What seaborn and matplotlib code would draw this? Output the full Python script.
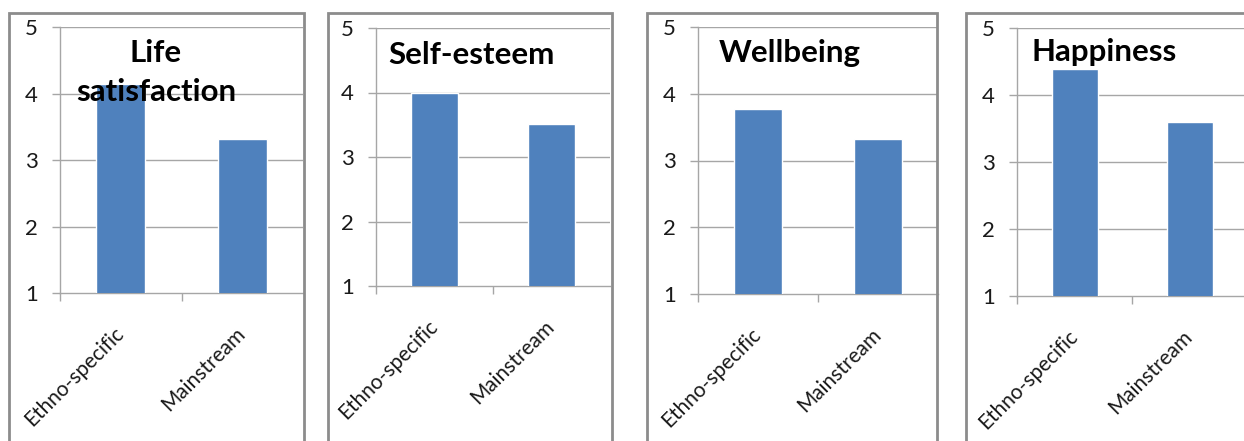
import matplotlib
matplotlib.use("Agg")
import matplotlib.pyplot as plt
from matplotlib.patches import Rectangle
from matplotlib.ticker import FixedLocator
import seaborn as sns
import pandas as pd

# Mean scores by service type
groups = ["Ethno-specific", "Mainstream"]
life_satisfaction = [4.14, 3.32]
self_esteem = [3.99, 3.51]
wellbeing = [3.77, 3.32]
happiness = [4.39, 3.60]
titles = [["Life", "satisfaction"], ["Self-esteem"], ["Wellbeing"], ["Happiness"]]
y_ticks = [1, 2, 3, 4, 5]

sns.set_theme(style="white")
plt.rcParams["font.family"] = ["Lato", "DejaVu Sans"]

W, H = 1244, 441
fig = plt.figure(figsize=(W / 100, H / 100), dpi=100)

BAR = "#4F81BD"
GRID = "#A6A6A6"
FRAME = "#8C8C8C"

# panel layout in pixels: (axes left, axes right, y=5 row, y=1 row, frame left, frame right)
layout = [
    (60, 303, 27, 293, 9, 304),
    (376, 610, 28, 286, 328, 612),
    (698, 938, 27, 294, 647, 937),
    (1017, 1247, 28, 296, 966, 1260),
]
# title lines in axes fraction: x, ha, baselines
title_pos = [
    (0.395, "center", [0.868, 0.722]),
    (0.051, "left", [0.860]),
    (0.0875, "left", [0.869]),
    (0.065, "left", [0.877]),
]
series = [life_satisfaction, self_esteem, wellbeing, happiness]

for i, (vals, title) in enumerate(zip(series, titles)):
    axl, axr, yt, yb, fl, fr = layout[i]
    # outer frame around each chart
    fig.patches.append(Rectangle((fl / W, -0.1), (fr - fl) / W, 1.1 - 13 / H,
                                 transform=fig.transFigure, fill=False,
                                 edgecolor=FRAME, linewidth=2, zorder=0))
    ax = fig.add_axes([axl / W, 1 - yb / H, (axr - axl) / W, (yb - yt) / H])
    df = pd.DataFrame({"group": groups, "score": vals})
    sns.barplot(data=df, x="group", y="score", color=BAR, saturation=1,
                width=0.4, ax=ax, zorder=3)
    ax.set_ylim(1, 5)
    ax.set_xlim(-0.5, 1.5)
    ax.set_yticks(y_ticks)
    ax.set_yticklabels([str(t) for t in y_ticks])
    ax.set_xlabel("")
    ax.set_ylabel("")
    ax.set_facecolor("none")
    for y in y_ticks[1:]:
        ax.axhline(y, color=GRID, linewidth=1, zorder=1)
    for s in ["top", "right"]:
        ax.spines[s].set_visible(False)
    for s in ["left", "bottom"]:
        ax.spines[s].set_color(GRID)
        ax.spines[s].set_linewidth(1)
    ax.tick_params(axis="y", which="major", length=6, width=1, color=GRID,
                   pad=10, labelsize=16, labelcolor="#1a1a1a", left=True)
    # category labels at bar centres, boundary ticks between categories
    ax.tick_params(axis="x", which="major", length=0, pad=27,
                   labelsize=15, labelcolor="#1a1a1a")
    ax.xaxis.set_minor_locator(FixedLocator([-0.5, 0.5]))
    ax.tick_params(axis="x", which="minor", length=6, width=1, color=GRID,
                   bottom=True)
    for lab in ax.get_xticklabels():
        lab.set_rotation(45)
        lab.set_ha("right")
        lab.set_va("center")
        lab.set_rotation_mode("anchor")
    tx, ha, baselines = title_pos[i]
    for line, by in zip(title, baselines):
        ax.text(tx, by, line, transform=ax.transAxes, ha=ha, va="baseline",
                fontsize=22.5, fontweight="bold", color="#000000", zorder=5)

fig.savefig("out.png", dpi=100)
